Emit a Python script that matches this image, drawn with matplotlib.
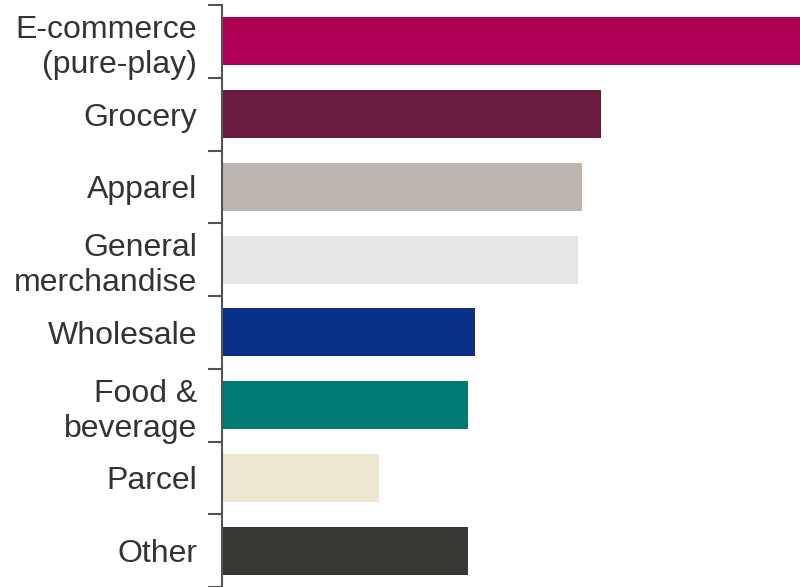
import matplotlib
matplotlib.use('Agg')
import matplotlib.pyplot as plt
import numpy as np

plt.rcParams['font.family'] = ['Liberation Sans', 'DejaVu Sans']

# Segments, top to bottom
categories = ['E-commerce\n(pure-play)', 'Grocery', 'Apparel', 'General\nmerchandise',
              'Wholesale', 'Food &\nbeverage', 'Parcel', 'Other']
values = [60.0, 37.9, 36.0, 35.6, 25.3, 24.6, 15.7, 24.6]
colors = ['#AE0055', '#6B1B3F', '#BDB5B0', '#E6E5E3',
          '#0A2F87', '#007A72', '#ECE6CF', '#383734']

XSIZE, YSIZE = 8.0, 5.87

fig = plt.figure(figsize=(XSIZE, YSIZE), dpi=100)
ax = fig.add_axes([222 / 800, 0.0, 1 - 222 / 800, 1 - 5 / 587])

y = np.arange(len(categories))
ax.barh(y, values, height=0.66, color=colors, lw=0)

ax.set_ylim(len(categories) - 0.5, -0.5)
ax.set_xlim(0, 57.8)

# labels on the category centres, tick marks on the boundaries
ax.set_yticks(y)
ax.set_yticklabels(categories, fontsize=23, color='#333333', linespacing=1.22)
ax.tick_params(axis='y', which='major', length=0, pad=18)
ax.set_yticks(np.arange(len(categories) + 1) - 0.5, minor=True)
ax.tick_params(axis='y', which='minor', length=10, width=1.5, color='#555555')

ax.set_xticks([])
for side in ['top', 'right', 'bottom']:
    ax.spines[side].set_visible(False)
ax.spines['left'].set_color('#555555')
ax.spines['left'].set_linewidth(1.5)

fig.savefig('out.png', dpi=100)
